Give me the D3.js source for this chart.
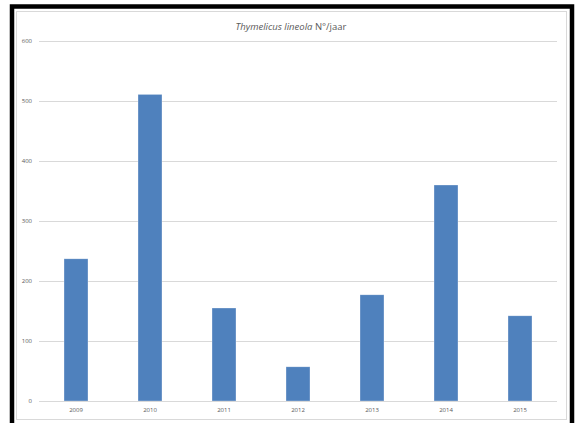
<!DOCTYPE html>
<html><head><meta charset="utf-8">
<script src="https://cdn.jsdelivr.net/npm/d3@7"></script>
<style>html,body{margin:0;padding:0;background:#fff;}svg{display:block;}</style>
</head><body>
<svg id="c" width="578" height="423"></svg>
<script>
const years = ["2009","2010","2011","2012","2013","2014","2015"];
const counts = [237, 511, 155, 57, 177, 360, 142];
const yTicks = [0,100,200,300,400,500,600];

const svg = d3.select("#c");
// black outer frame
svg.append("rect").attr("x",12).attr("y",6.5).attr("width",560).attr("height",430)
  .attr("fill","none").attr("stroke","#000").attr("stroke-width",4.5);
// chart area border
svg.append("rect").attr("x",16.5).attr("y",11.5).attr("width",550).attr("height",408)
  .attr("fill","#fff").attr("stroke","#d9d9d9").attr("stroke-width",1);

const m = {left:39, right:557, top:41, bottom:401};
const x = d3.scaleBand().domain(years).range([m.left,m.right]).paddingInner(0.676).paddingOuter(0.338);
const y = d3.scaleLinear().domain([0,600]).range([m.bottom,m.top]);

svg.append("g").selectAll("line").data(yTicks.filter(d=>d>0)).join("line")
  .attr("x1",m.left).attr("x2",m.right)
  .attr("y1",d=>Math.round(y(d))+0.5).attr("y2",d=>Math.round(y(d))+0.5)
  .attr("stroke","#d9d9d9").attr("stroke-width",1);

const yAxis = svg.append("g").attr("transform",`translate(${m.left},0)`)
  .call(d3.axisLeft(y).tickValues(yTicks).tickSize(0).tickPadding(7));
yAxis.select(".domain").remove();
yAxis.selectAll("text").attr("fill","#595959").style("font-family","'Open Sans', sans-serif").style("font-size","6px");

svg.append("g").selectAll("rect").data(years).join("rect")
  .attr("x",d=>x(d)).attr("width",x.bandwidth())
  .attr("y",(d,i)=>y(counts[i])).attr("height",(d,i)=>y(0)-y(counts[i]))
  .attr("fill","#4f81bd").attr("stroke","#ffffff").attr("stroke-opacity",0.5).attr("stroke-width",0.6);

const xAxis = svg.append("g").attr("transform",`translate(0,${m.bottom})`)
  .call(d3.axisBottom(x).tickSize(0).tickPadding(7));
xAxis.select(".domain").attr("stroke","#d9d9d9").attr("d",`M${m.left},0.5H${m.right}`);
xAxis.selectAll("text").attr("fill","#595959").style("font-family","'Open Sans', sans-serif").style("font-size","6px");

const t = svg.append("text").attr("x",291).attr("y",30).attr("text-anchor","middle")
  .attr("fill","#595959").style("font-family","'Open Sans', sans-serif").style("font-size","9.5px");
t.append("tspan").attr("font-style","italic").text("Thymelicus lineola");
t.append("tspan").text(" N°/jaar");
</script>
</body></html>
